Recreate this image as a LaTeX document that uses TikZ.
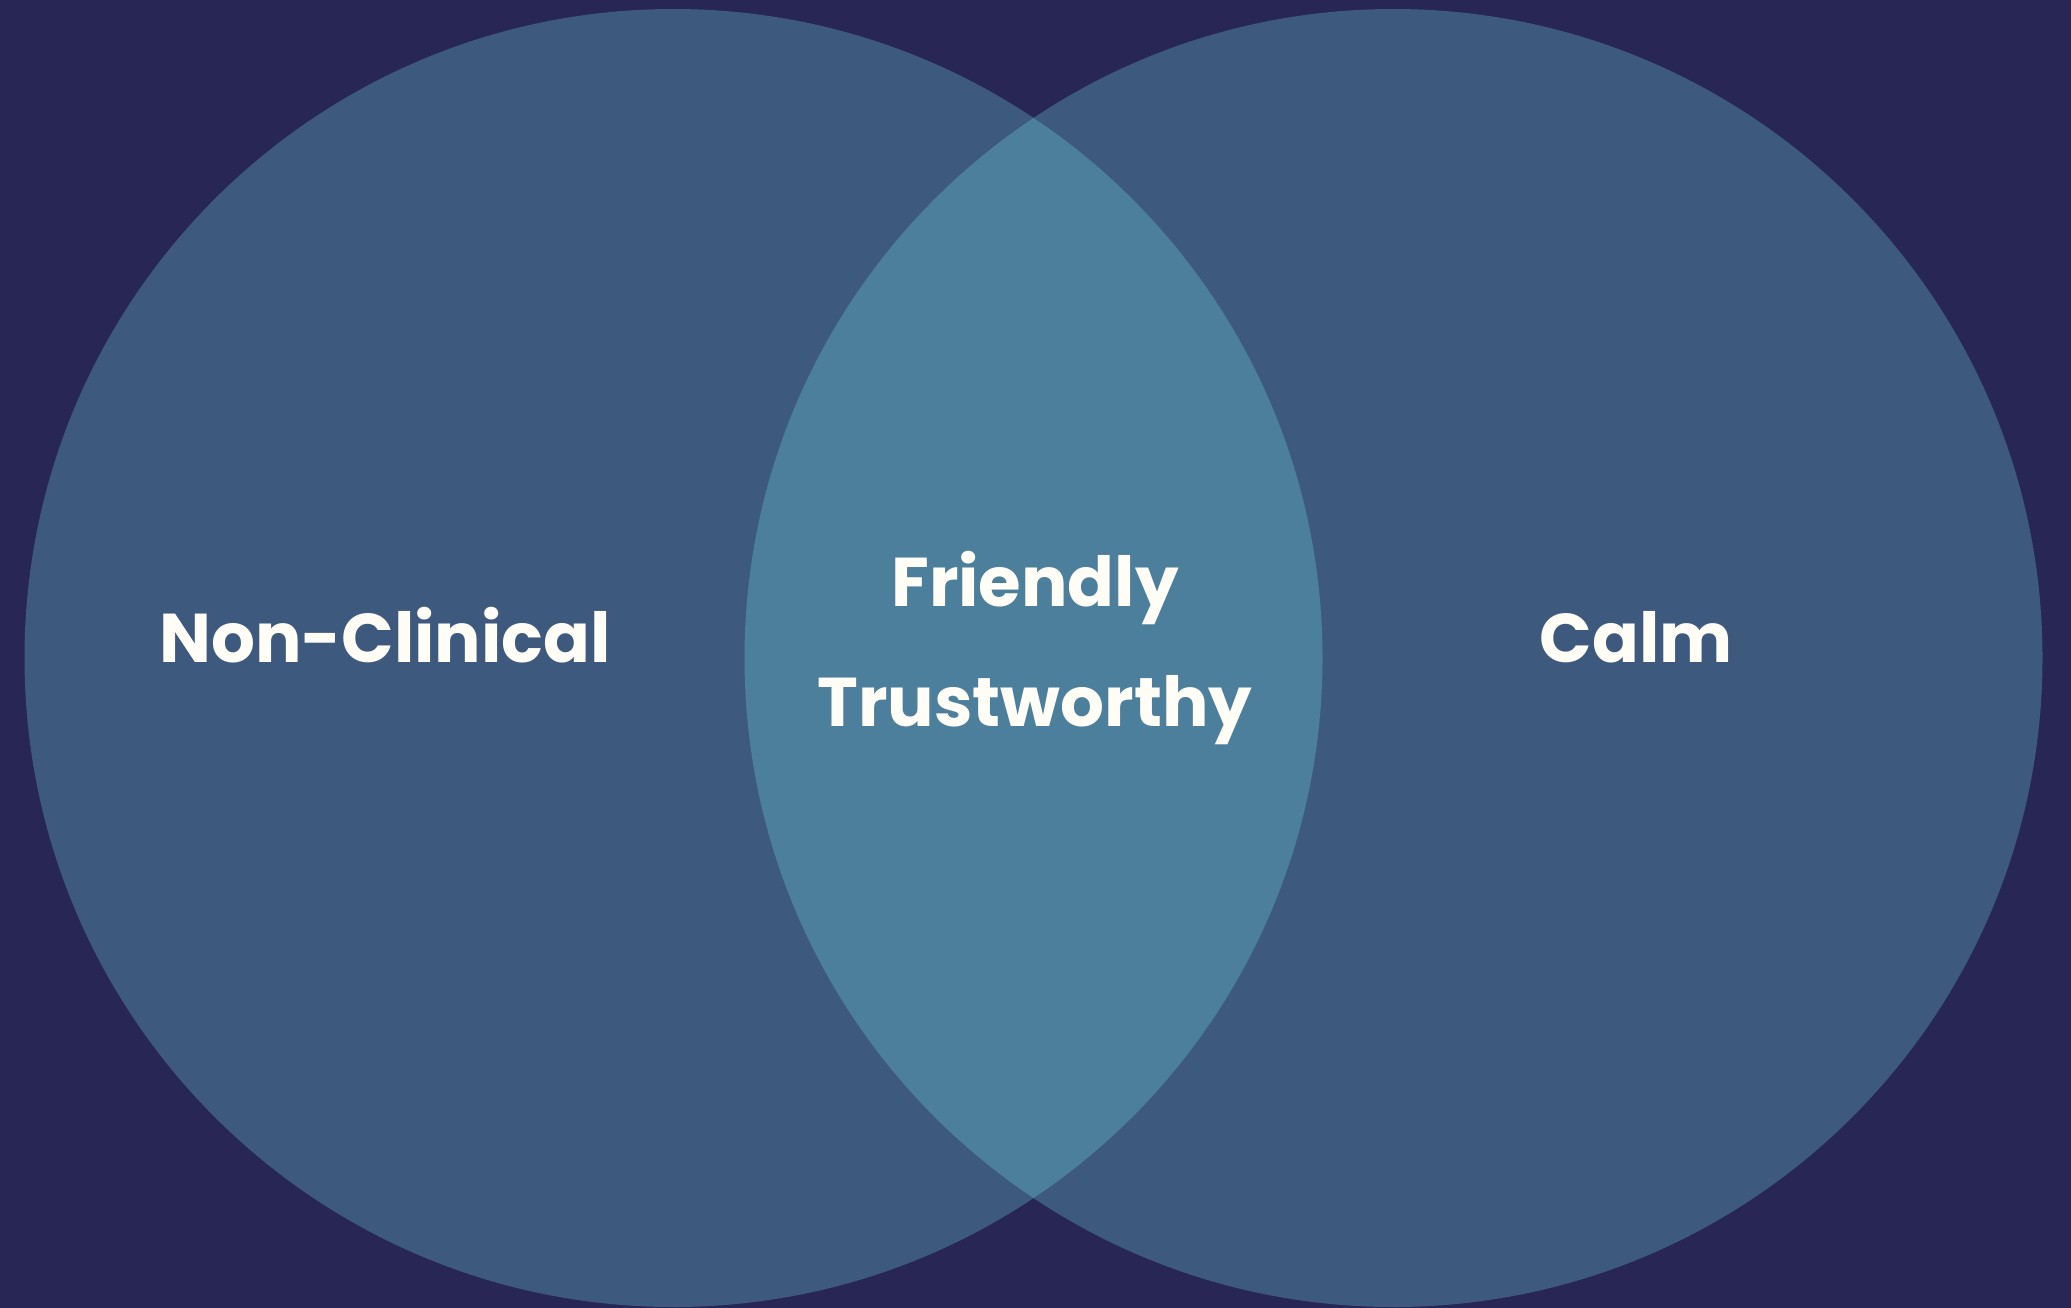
\documentclass[tikz,border=0pt]{standalone}
\usepackage{fontspec}
\setmainfont{Poppins}
\definecolor{night}{HTML}{282654}
\definecolor{setblue}{HTML}{3D5A7E}
\definecolor{overlap}{HTML}{4C7F9C}
\definecolor{cream}{HTML}{FFFDF5}

\begin{document}
\begin{tikzpicture}[x=1pt,y=-1pt]
\tikzset{set/.style = {shape=circle,fill=setblue,minimum size=1298pt,inner sep=0pt}}
\tikzset{word/.style = {anchor=base,text=cream,font=\fontsize{69}{84}\selectfont\bfseries}}
\useasboundingbox (0,0) rectangle (2071,1307);
\fill[night] (-10,-10) rectangle (2081,1317);
\node[set] (l) at (673.5,658) {};
\node[set] (r) at (1393.5,658) {};
% overlap of the two sets
\begin{scope}
\clip (l.center) circle [radius=649];
\fill[overlap] (r.center) circle [radius=649];
\end{scope}
\node[word] (nc) at (385,662) {Non-Clinical};
\node[word] (fr) at (1035,606) {Friendly};
\node[word] (tr) at (1035,726) {Trustworthy};
\node[word] (ca) at (1636,662) {Calm};
\end{tikzpicture}
\end{document}
